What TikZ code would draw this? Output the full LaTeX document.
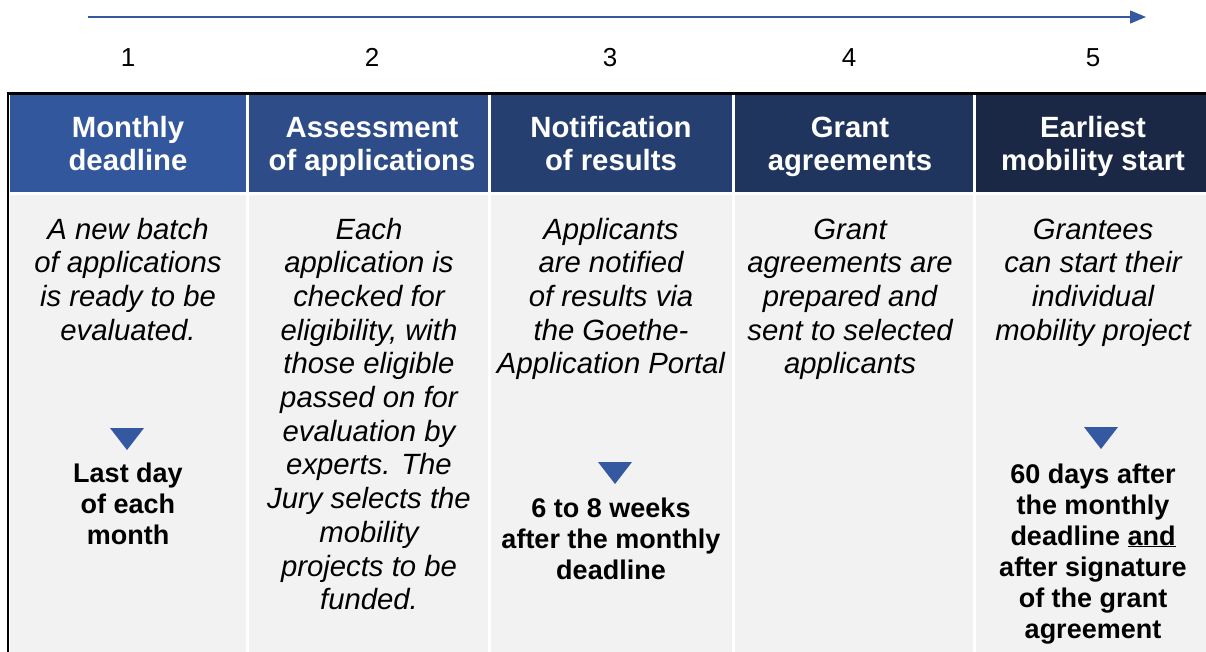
\documentclass[tikz,border=0pt]{standalone}
\usepackage{fontspec}
\setmainfont{Liberation Sans}
\usetikzlibrary{arrows.meta}
\definecolor{HeadA}{RGB}{51,87,156}
\definecolor{HeadB}{RGB}{45,76,136}
\definecolor{HeadC}{RGB}{37,63,113}
\definecolor{HeadD}{RGB}{31,53,93}
\definecolor{HeadE}{RGB}{26,40,70}
\definecolor{BodyGray}{RGB}{242,242,242}
\definecolor{MarkBlue}{RGB}{52,89,160}
\newcommand\StageColumn[4]{%
    \fill[#3] (#1,95) rectangle (#2,192);
    \fill[BodyGray] (#1,195) rectangle (#2,652);
    \coordinate (#4) at ({(#1+#2)/2},0);
}
\newcommand\Marker[2]{%
    \fill[MarkBlue] (#1-17,#2) -- (#1+17,#2) -- (#1,#2+22) -- cycle;
}
% base anchor sits on the last line
\tikzset{
    head/.style={anchor=base,align=center,inner sep=0pt,text=white,
        font=\bfseries\fontsize{29.3}{33}\selectfont},
    desc/.style={anchor=base,align=center,inner sep=0pt,
        font=\itshape\fontsize{29.3}{33.7}\selectfont},
    note/.style={anchor=base,align=center,inner sep=0pt,
        font=\bfseries\fontsize{27}{31}\selectfont},
    stepnum/.style={anchor=base,inner sep=0pt,font=\fontsize{26}{30}\selectfont},
}
\begin{document}
\begin{tikzpicture}[x=1pt,y=-1pt]
    \useasboundingbox (0,0) rectangle (1206,652);
    % timeline
    \coordinate (TimeStart) at (88,17);
    \coordinate (TimeEnd) at (1146,17);
    \draw[MarkBlue,line width=1.4pt,-{Triangle[length=16pt,width=13pt]}] (TimeStart) -- (TimeEnd);
    % columns
    \StageColumn{10}{246}{HeadA}{c1}
    \StageColumn{249}{488}{HeadB}{c2}
    \StageColumn{491}{732}{HeadC}{c3}
    \StageColumn{735}{973}{HeadD}{c4}
    \StageColumn{976}{1206}{HeadE}{c5}
    \draw[line width=2.5pt] (8,652) -- (8,93.5) -- (1206,93.5);
    % step numbers
    \node[stepnum] (n1) at (128,67) {1};
    \node[stepnum] (n2) at (372,67) {2};
    \node[stepnum] (n3) at (610,67) {3};
    \node[stepnum] (n4) at (849,67) {4};
    \node[stepnum] (n5) at (1093,67) {5};
    % headers
    \node[head] (h1) at (128,171) {Monthly\\deadline};
    \node[head] (h2) at (372,171) {Assessment\\of applications};
    \node[head] (h3) at (611,171) {Notification\\of results};
    \node[head] (h4) at (850,171) {Grant\\agreements};
    \node[head] (h5) at (1093,171) {Earliest\\mobility start};
    % descriptions
    \node[desc] (d1) at (128,340.1) {A new batch\\of applications\\is ready to be\\evaluated.};
    \node[desc] (d2) at (369,609.7) {Each\\application is\\checked for\\eligibility, with\\those eligible\\passed on for\\evaluation by\\experts. The\\Jury selects the\\mobility\\projects to be\\funded.};
    \node[desc] (d3) at (611,373.8) {Applicants\\are notified\\of results via\\the Goethe-\\Application Portal};
    \node[desc] (d4) at (850,373.8) {Grant\\agreements are\\prepared and\\sent to selected\\applicants};
    \node[desc] (d5) at (1093,340.1) {Grantees\\can start their\\individual\\mobility project};
    % deadlines
    \Marker{127}{428}
    \node[note] (t1) at (128,544) {Last day\\of each\\month};
    \Marker{615}{462}
    \node[note] (t3) at (611,579) {6 to 8 weeks\\after the monthly\\deadline};
    \Marker{1101}{427}
    \node[note] (t5) at (1093,638) {60 days after\\the monthly\\deadline \underline{and}\\after signature\\of the grant\\agreement};
\end{tikzpicture}
\end{document}
